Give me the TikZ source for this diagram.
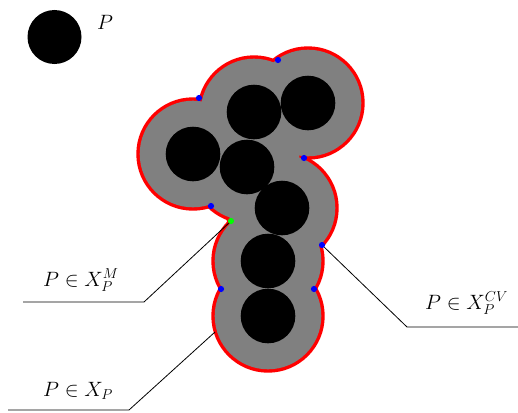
\documentclass[tikz,border=0pt]{standalone}
\tikzset{
  dotb/.style={circle, fill=blue, inner sep=0pt, minimum size=6.2pt},
  dotg/.style={circle, fill=green, inner sep=0pt, minimum size=6.2pt},
  lbl/.style={anchor=base west, inner sep=0pt, font=\fontsize{22.5}{26}\selectfont},
  leader/.style={black, line width=0.8pt},
}
\begin{document}
\begin{tikzpicture}[x=1pt,y=-1pt]
\useasboundingbox (0,0) rectangle (518,412);
% small disk P
\fill[black] (54.5,37) circle[radius=27];
\node[lbl] (lP) at (97,30) {$P$};
% set: red band, grey body, black disks
\foreach \p in {(254,112),(308,103),(193,154),(247,167),(282,208),(268,261),(268,316)}
  \fill[red] \p circle[radius=56.7];
\foreach \p in {(254,112),(308,103),(193,154),(247,167),(282,208),(268,261),(268,316)}
  \fill[gray] \p circle[radius=53.3];
\foreach \p in {(254,112),(308,103),(193,154),(247,167),(282,208),(268,261),(268,316)}
  \fill[black] \p circle[radius=27.3];
% leader coordinates
\coordinate (bX) at (215,332);
\coordinate (kM) at (144,302);
\coordinate (eM) at (23,302);
\coordinate (kX) at (129,410);
\coordinate (eX) at (8,410);
\coordinate (kC) at (407,327);
\coordinate (eC) at (518,327);
\coordinate (gMc) at (231,221);
\coordinate (bCc) at (322,245);
% leaders
\draw[leader] (gMc) -- (kM) -- (eM);
\draw[leader] (bX) -- (kX) -- (eX);
\draw[leader] (bCc) -- (kC) -- (eC);
% dots
\node[dotb] (b1) at (199,98) {};
\node[dotb] (b2) at (278,60) {};
\node[dotb] (b3) at (304,158) {};
\node[dotb] (b4) at (211,206) {};
\node[dotb] (bC) at (bCc) {};
\node[dotb] (b6) at (221,289) {};
\node[dotb] (b7) at (314,289) {};
\node[dotg] (gM) at (gMc) {};
% labels
\node[lbl] (lM) at (43,286) {$P \in X_P^{M}$};
\node[lbl] (lX) at (43,396) {$P \in X_P$};
\node[lbl] (lC) at (425,309) {$P \in X_P^{CV}$};
\end{tikzpicture}
\end{document}
